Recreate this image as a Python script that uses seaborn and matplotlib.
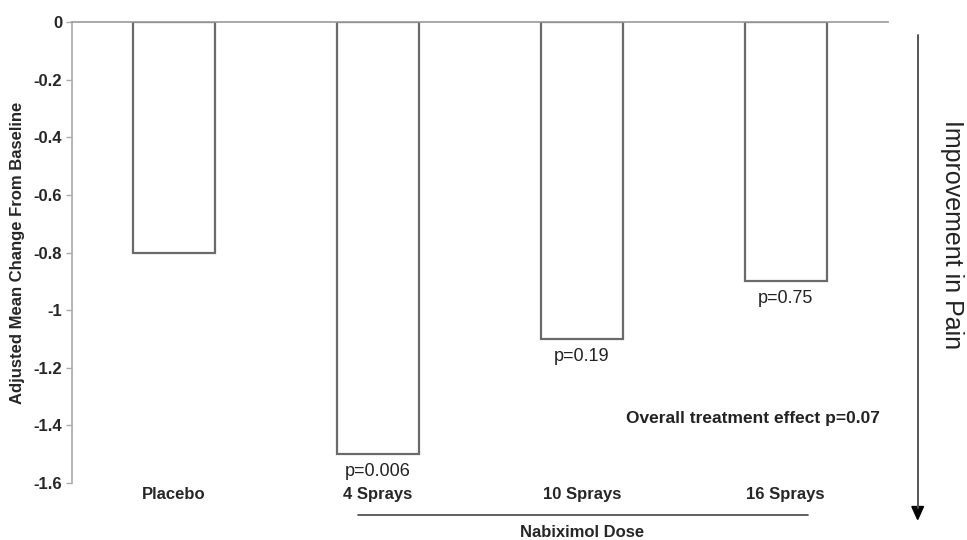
import seaborn as sns
import matplotlib.pyplot as plt
import pandas as pd

# values
groups = ['Placebo', '4 Sprays', '10 Sprays', '16 Sprays']
change = [-0.8, -1.5, -1.1, -0.9]
pvals = [None, 'p=0.006', 'p=0.19', 'p=0.75']
yticks = [0, -0.2, -0.4, -0.6, -0.8, -1, -1.2, -1.4, -1.6]

df = pd.DataFrame({'group': groups, 'change': change})

sns.set_theme(style='white')
plt.rcParams['font.family'] = ['Liberation Sans', 'DejaVu Sans']

fig = plt.figure(figsize=(9.67, 5.4), dpi=100)
ax = fig.add_axes([0.0745, 0.1056, 0.8435, 0.8536])

sns.barplot(data=df, x='group', y='change', color='white', edgecolor='#6a6a6a',
            linewidth=1.6, width=0.4, saturation=1, ax=ax)

ax.set_ylim(-1.6, 0)
ax.set_xlim(-0.5, 3.5)
ax.set_yticks(yticks)
ax.set_yticklabels([f'{t:g}' for t in yticks], fontweight='bold', fontsize=12)
ax.tick_params(axis='y', length=4, width=1, color='#aaaaaa', pad=3, left=True)
ax.tick_params(axis='x', length=0, pad=3)
ax.set_xticks(range(len(groups)))
ax.set_xticklabels(groups, fontweight='bold', fontsize=12)

for side in ['bottom', 'right']:
    ax.spines[side].set_visible(False)
ax.spines['left'].set_color('#aaaaaa')
ax.spines['top'].set_color('#999999')
ax.spines['left'].set_linewidth(1.2)
ax.spines['top'].set_linewidth(1.2)

ax.set_xlabel('')
ax.set_ylabel('Adjusted Mean Change From Baseline', fontweight='bold', fontsize=12, labelpad=6)

# p-values under the bars
for i, (v, p) in enumerate(zip(change, pvals)):
    if p:
        ax.annotate(p, (i, v), xytext=(0, -12.5), textcoords='offset points',
                    ha='center', va='center', fontsize=13, color='#222222')

ax.text(3.46, -1.375, 'Overall treatment effect p=0.07', ha='right', va='center',
        fontsize=12.5, fontweight='bold', color='#222222')

# dose bracket under the nabiximol groups
trans = ax.get_xaxis_transform()
ax.plot([0.9, 3.11], [-0.069, -0.069], transform=trans, color='#444444', lw=1.2, clip_on=False)
ax.text(2.0, -0.108, 'Nabiximol Dose', transform=trans, ha='center', va='center',
        fontsize=12, fontweight='bold')

# improvement arrow at right
fig.add_artist(plt.Line2D([0.949, 0.949], [0.935, 0.06], color='#555555', lw=1.4))
fig.patches.append(plt.Polygon([[0.943, 0.062], [0.955, 0.062], [0.949, 0.038]],
                               closed=True, color='black', transform=fig.transFigure, figure=fig))
fig.text(0.984, 0.565, 'Improvement in Pain', rotation=270, ha='center', va='center', fontsize=18,
         color='#222222')

plt.savefig('out.png', dpi=100)
